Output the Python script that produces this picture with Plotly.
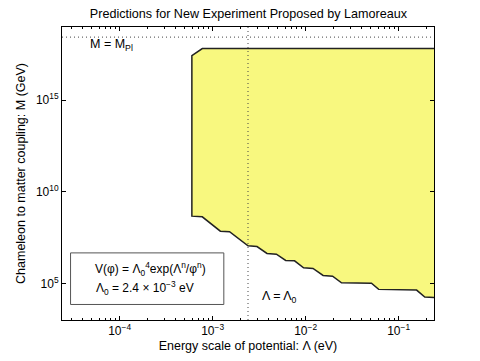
import plotly.graph_objects as go

# boundary of the predicted region (Lambda in eV, M in GeV)
lam_edge = [0.241, 0.191, 0.156, 0.061, 0.051, 0.0243, 0.0195, 0.0154, 0.012,
            0.0095, 0.0076, 0.0061, 0.00485, 0.00384, 0.0030, 0.0024, 0.00152,
            0.00121, 0.000774, 0.000598, 0.000598, 0.000774, 0.241]
m_edge = [1.7e4, 1.8e4, 4.3e4, 4.7e4, 1.02e5, 1.07e5, 2.45e5, 2.7e5, 6.5e5,
          7.1e5, 1.7e6, 1.78e6, 3.9e6, 4.3e6, 1.02e7, 1.12e7, 6.6e7,
          7.1e7, 4.3e8, 4.7e8, 2.7e17, 6.6e17, 6.6e17]

lambda0 = 2.4e-3      # eV
m_planck = 2.8e18     # GeV

x_range = [2.4e-5, 0.24]
y_range = [1e3, 1e19]

x_ticks = [1e-4, 1e-3, 1e-2, 1e-1]
x_labels = ["10<sup>−4</sup>", "10<sup>−3</sup>", "10<sup>−2</sup>", "10<sup>−1</sup>"]
y_ticks = [1e5, 1e10, 1e15]
y_labels = ["10<sup>5</sup>", "10<sup>10</sup>", "10<sup>15</sup>"]

font = "Liberation Sans"
dotted = dict(color="#444444", width=1, dash="1px,3px")

fig = go.Figure()

fig.add_trace(
    go.Scatter(
        x=lam_edge,
        y=m_edge,
        mode="lines",
        fill="toself",
        fillcolor="#f8f87f",
        line=dict(color="#222222", width=1.5),
        showlegend=False,
        hoverinfo="skip",
    )
)

# Lambda = Lambda_0 and M = M_Pl reference lines
fig.add_trace(go.Scatter(x=[lambda0, lambda0], y=y_range, mode="lines",
                         line=dotted, showlegend=False, hoverinfo="skip"))
fig.add_trace(go.Scatter(x=x_range, y=[m_planck, m_planck], mode="lines",
                         line=dotted, showlegend=False, hoverinfo="skip"))

fig.add_annotation(
    x=0.069, y=0.94, xref="paper", yref="paper", yanchor="middle",
    text="M = M<sub>Pl</sub>", showarrow=False, xanchor="left",
    font=dict(size=12.5, color="black", family=font),
)
fig.add_annotation(
    x=0.532, y=0.08, xref="paper", yref="paper", yanchor="middle",
    text="Λ = Λ<sub>0</sub>", showarrow=False, xanchor="left",
    font=dict(size=12.5, color="black", family=font),
)

# formula box
fig.add_shape(
    type="rect", xref="paper", yref="paper",
    x0=0.023, x1=0.435, y0=0.053, y1=0.229,
    line=dict(color="#555555", width=1), fillcolor="white",
)
fig.add_annotation(
    x=0.083, y=0.175, xref="paper", yref="paper", yanchor="middle", xanchor="left",
    text="V(φ) = Λ<sub>0</sub><sup>4</sup>exp(Λ<sup>n</sup>/φ<sup>n</sup>)",
    showarrow=False, font=dict(size=12, color="black", family=font),
)
fig.add_annotation(
    x=0.087, y=0.108, xref="paper", yref="paper", yanchor="middle", xanchor="left",
    text="Λ<sub>0</sub> = 2.4 × 10<sup>−3</sup> eV",
    showarrow=False, font=dict(size=12, color="black", family=font),
)

axis_common = dict(
    type="log",
    ticks="inside",
    ticklen=4,
    tickcolor="black",
    showgrid=False,
    zeroline=False,
    showline=True,
    linecolor="black",
    linewidth=1,
    mirror="ticks",
    tickfont=dict(size=12, color="black", family=font),
)

fig.update_xaxes(
    range=[-4.6198, -0.6198],
    tickvals=x_ticks,
    ticktext=x_labels,
    minor=dict(ticks="inside", ticklen=2, tickcolor="black",
               tickvals=[k * 10 ** e for e in range(-5, 0) for k in range(2, 10)]),
    title=dict(text="Energy scale of potential: Λ (eV)", standoff=3,
               font=dict(size=12.5, color="black", family=font)),
    **axis_common,
)
fig.update_yaxes(
    range=[3, 19],
    tickvals=y_ticks,
    ticktext=y_labels,
    title=dict(text="Chameleon to matter coupling: M (GeV)", standoff=7,
               font=dict(size=12.5, color="black", family=font)),
    **axis_common,
)

fig.update_layout(
    width=480,
    height=361,
    margin=dict(l=62, r=46, t=27, b=41, autoexpand=False),
    paper_bgcolor="white",
    plot_bgcolor="white",
    title=dict(text="Predictions for New Experiment Proposed by Lamoreaux",
               x=0.5175, xanchor="center", y=0.962, yanchor="middle",
               font=dict(size=12.6, color="black", family=font)),
    showlegend=False,
)

fig.write_html("out.html", config={"displayModeBar": False},
               post_script="document.body.style.margin='0';")
